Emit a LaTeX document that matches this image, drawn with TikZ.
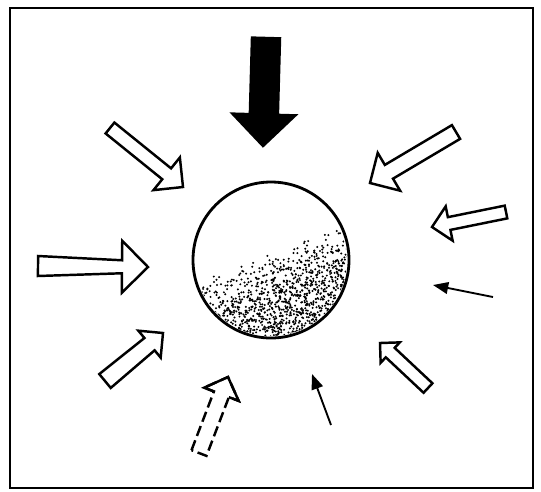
\documentclass[tikz,border=0pt]{standalone}
\usetikzlibrary{calc,arrows.meta}

% block arrow: tail, tip, tail width, neck width, head width (in px)
\newcommand{\blockarrow}[6][]{%
  \pgfmathsetlengthmacro\arTail{#4*0.015cm}%
  \pgfmathsetlengthmacro\arNeck{#5*0.015cm}%
  \pgfmathsetlengthmacro\arHead{#6*0.015cm}%
  \coordinate (hb) at ($(#3)!\arHead!(#2)$);
  \coordinate (nl) at ($(hb)!\arNeck!90:(#3)$);
  \coordinate (nr) at ($(hb)!\arNeck!-90:(#3)$);
  \coordinate (hl) at ($(hb)!\arHead!90:(#3)$);
  \coordinate (hr) at ($(hb)!\arHead!-90:(#3)$);
  \draw[blockstyle,#1] ($(#2)!\arTail!90:(#3)$) -- (nl) -- (hl) -- (#3)
    -- (hr) -- (nr) -- ($(#2)!\arTail!-90:(#3)$) -- cycle;
}

\begin{document}
\begin{tikzpicture}[
  x=0.03cm, y=-0.03cm,
  blockstyle/.style={draw, line width=2.1pt, fill=white, line join=miter},
  solidblock/.style={fill=black},
  thinarrow/.style={line width=1.6pt, -{Triangle[length=13pt,width=10pt]}},
  dot/.style={fill=black}
]
  \useasboundingbox (0,0) rectangle (541,491);
  \draw[line width=2.2pt] (10,8) rectangle (533,488);

  \node[circle, draw, line width=2.4pt, minimum size=4.68cm, inner sep=0pt]
    (ball) at (271,260) {};

  % shading of the ball
  \pgfmathsetseed{7}
  \begin{scope}
    \clip (ball.center) circle[radius=2.28cm];
    \foreach \i in {1,...,2800}{
      \pgfmathsetmacro\px{193+158*rnd}
      \pgfmathsetmacro\py{212+128*rnd}
      \pgfmathtruncatemacro\keep{((\py-277+0.4*(\px-207))/48 > rnd) ? 1 : 0}
      \ifnum\keep=1 \fill[dot] (\px,\py) circle[radius=0.95pt]; \fi
    }
  \end{scope}

  \coordinate (topTail) at (266,38);   \coordinate (topTip) at (263,146);
  \coordinate (ulTail) at (110,128);   \coordinate (ulTip) at (183,187);
  \coordinate (urTail) at (456,132);   \coordinate (urTip) at (370,183);
  \coordinate (rTail) at (506,212);    \coordinate (rTip) at (432,227);
  \coordinate (lTail) at (38,266);     \coordinate (lTip) at (148,267);
  \coordinate (llTail) at (105,381);   \coordinate (llTip) at (163,333);
  \coordinate (lrTail) at (428,388);   \coordinate (lrTip) at (380,343);
  \coordinate (dTail) at (199,453);    \coordinate (dTip) at (228,377);
  \coordinate (thinRTail) at (493,297); \coordinate (thinRTip) at (433,285);
  \coordinate (thinBTail) at (331,425); \coordinate (thinBTip) at (312,374);

  \blockarrow[solidblock]{topTail}{topTip}{28}{28}{63}
  \blockarrow{ulTail}{ulTip}{14}{14}{42}
  \blockarrow{urTail}{urTip}{16}{16}{44}
  \blockarrow{rTail}{rTip}{13}{13}{35}
  \blockarrow{lTail}{lTip}{20}{13}{52}
  \blockarrow{llTail}{llTip}{18}{16}{35}
  \blockarrow{lrTail}{lrTip}{13}{13}{28}
  \blockarrow[dash pattern=on 9pt off 4pt]{dTail}{dTip}{16}{16}{37}
  \draw[blockstyle, fill=none] (nl) -- (hl) -- (dTip) -- (hr) -- (nr);

  \draw[thinarrow] (thinRTail) -- (thinRTip);
  \draw[thinarrow] (thinBTail) -- (thinBTip);
\end{tikzpicture}
\end{document}
